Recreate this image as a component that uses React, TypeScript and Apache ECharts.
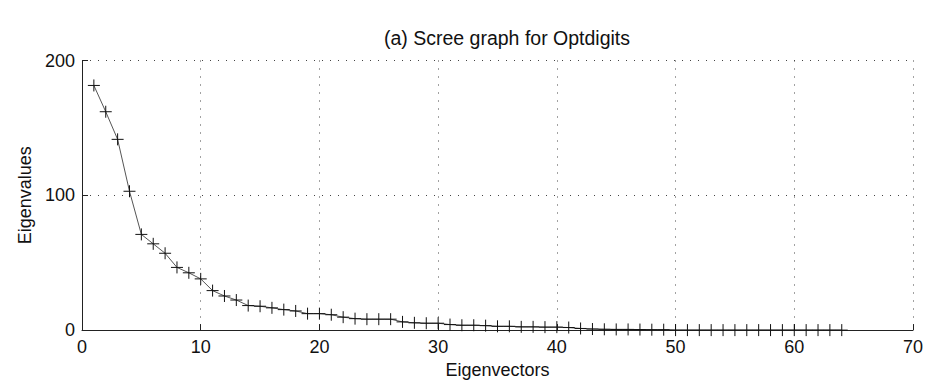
import React, { useEffect, useRef } from "react";
import * as echarts from "echarts";

const eigenvectors = [
  1, 2, 3, 4, 5, 6, 7, 8, 9, 10, 11, 12, 13, 14, 15, 16, 17, 18, 19, 20, 21, 22,
  23, 24, 25, 26, 27, 28, 29, 30, 31, 32, 33, 34, 35, 36, 37, 38, 39, 40, 41, 42,
  43, 44, 45, 46, 47, 48, 49, 50, 51, 52, 53, 54, 55, 56, 57, 58, 59, 60, 61, 62,
  63, 64,
];
const eigenvalues = [
  181.5, 162, 141.5, 103, 71, 64, 57, 46.5, 42.5, 38, 29.3, 25.3, 22.3, 18.2,
  17.7, 16.5, 15.2, 14.2, 12.2, 12.2, 11.4, 9.6, 8.5, 8.1, 8.1, 8.1, 6.1, 5.4,
  5.1, 5.1, 4.1, 3.6, 3.6, 3.3, 2.8, 2.8, 2.4, 2.4, 2.2, 2.2, 1.9, 1.2, 0.8,
  0.6, 0.5, 0.5, 0.4, 0.3, 0.3, 0, 0, 0, 0, 0, 0, 0, 0, 0, 0, 0, 0, 0, 0, 0,
];
const xTicks = { min: 0, max: 70, interval: 10 };
const yTicks = { min: 0, max: 200, interval: 100 };
const title = "(a) Scree graph for Optdigits";
const xName = "Eigenvectors";
const yName = "Eigenvalues";

export default function App() {
  const ref = useRef<HTMLDivElement>(null);
  useEffect(() => {
    if (!ref.current) return;
    const chart = echarts.init(ref.current, null, { renderer: "svg" });
    const font = "Liberation Sans, Arial, sans-serif";
    const dotted = { color: "#444", width: 1, type: [1, 7] as number[] };
    chart.setOption({
      animation: false,
      title: {
        text: title,
        left: 494,
        top: 15,
        textAlign: "center",
        textStyle: { fontFamily: font, fontSize: 19.5, fontWeight: "normal", color: "#111" },
      },
      grid: { left: 74, right: 7, top: 52.5, bottom: 49, containLabel: false },
      xAxis: {
        type: "value",
        ...xTicks,
        name: xName,
        nameLocation: "middle",
        nameGap: 30,
        nameTextStyle: { fontFamily: font, fontSize: 18, color: "#111" },
        axisLine: { show: true, lineStyle: { color: "#222", width: 1 } },
        axisTick: { show: true, inside: true, length: 6, lineStyle: { color: "#222" } },
        axisLabel: { fontFamily: font, fontSize: 18, color: "#111", margin: 8 },
        splitLine: { show: true, lineStyle: dotted },
      },
      yAxis: {
        type: "value",
        ...yTicks,
        name: yName,
        nameLocation: "middle",
        nameGap: 38,
        nameRotate: 90,
        nameTextStyle: { fontFamily: font, fontSize: 18, color: "#111" },
        axisLine: { show: true, lineStyle: { color: "#222", width: 1 } },
        axisTick: { show: true, inside: true, length: 6, lineStyle: { color: "#222" } },
        axisLabel: { fontFamily: font, fontSize: 18, color: "#111", margin: 7 },
        splitLine: { show: true, lineStyle: dotted },
      },
      series: [
        {
          type: "line",
          data: eigenvectors.map((x, i) => [x, eigenvalues[i]]),
          lineStyle: { color: "#555", width: 1 },
          symbol: "path://M5,0 L5,10 M0,5 L10,5",
          symbolSize: 12,
          itemStyle: { color: "none", borderColor: "#111", borderWidth: 1 },
          showSymbol: true,
          z: 3,
        },
      ],
    });
    return () => chart.dispose();
  }, []);
  return <div ref={ref} style={{ width: 918, height: 376 }} />;
}
